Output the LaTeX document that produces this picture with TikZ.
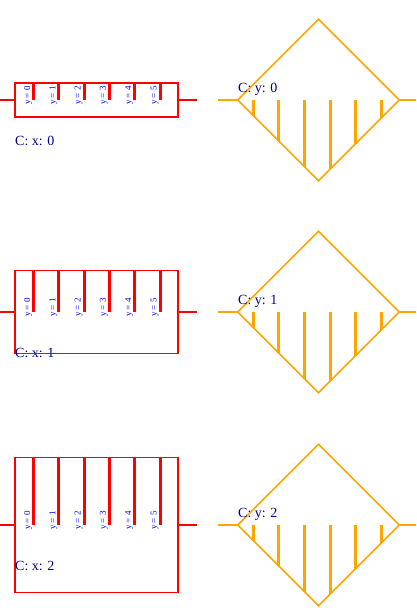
\documentclass[tikz,border=0pt]{standalone}
\usepackage{fontspec}
\setmainfont{Liberation Serif}
\usetikzlibrary{shapes.geometric}
\definecolor{BoxClr}{rgb}{1,0,0}
\definecolor{GateClr}{rgb}{1,0.647,0}
\definecolor{TextClr}{rgb}{0,0,0.55}
\definecolor{TickClr}{rgb}{0,0,1}

\begin{document}
\begin{tikzpicture}[x=1pt,y=-1pt,
  wire/.style={line width=1.6pt},
  blockbox/.style={draw=BoxClr,line width=1.8pt,inner sep=0,minimum width=163pt,anchor=west},
  gatebox/.style={diamond,aspect=1,draw=GateClr,line width=1.6pt,inner sep=0,minimum width=162pt,minimum height=162pt},
  tooth/.style={line width=3pt},
  ticklbl/.style={text=TickClr,font=\fontsize{9}{10}\selectfont,rotate=90,anchor=base west,inner sep=0},
  lbl/.style={text=TextClr,font=\fontsize{14}{16}\selectfont,anchor=base west,inner sep=0}]
\useasboundingbox (0,0) rectangle (416,616);

\foreach \r/\ym/\hh in {0/100/17,1/312/41.5,2/525/67.5}{
  % red block with its teeth
  \node[blockbox,minimum height=2*\hh pt] (box\r) at (14,\ym) {};
  \coordinate (inL\r) at (0,\ym);
  \coordinate (inR\r) at (197,\ym);
  \draw[BoxClr,wire] (inL\r) -- (box\r.west);
  \draw[BoxClr,wire] (box\r.east) -- (inR\r);
  \foreach \i in {0,...,5}{
    \draw[BoxClr,tooth] ({33.5+25.3*\i},{\ym-\hh}) -- ({33.5+25.3*\i},\ym);
    \node[ticklbl] (tk\r\i) at ({30+25.3*\i},{\ym+5}) {y = \i};
  }
  \node[lbl] (cx\r) at (15,{\ym+45}) {C: x: \r};

  % orange gate with its teeth
  \node[gatebox] (gate\r) at (318.5,\ym) {};
  \coordinate (gL\r) at (218,\ym);
  \coordinate (gR\r) at (416,\ym);
  \draw[GateClr,wire] (gL\r) -- (gate\r.west);
  \draw[GateClr,wire] (gate\r.east) -- (gR\r);
  \foreach \i in {0,...,5}{
    \draw[GateClr,tooth] ({253.3+25.6*\i},\ym) -- ({253.3+25.6*\i},{\ym+81-abs(253.3+25.6*\i-318.5)});
  }
  \node[lbl] (cy\r) at (238,{\ym-8}) {C: y: \r};
}
\end{tikzpicture}
\end{document}
